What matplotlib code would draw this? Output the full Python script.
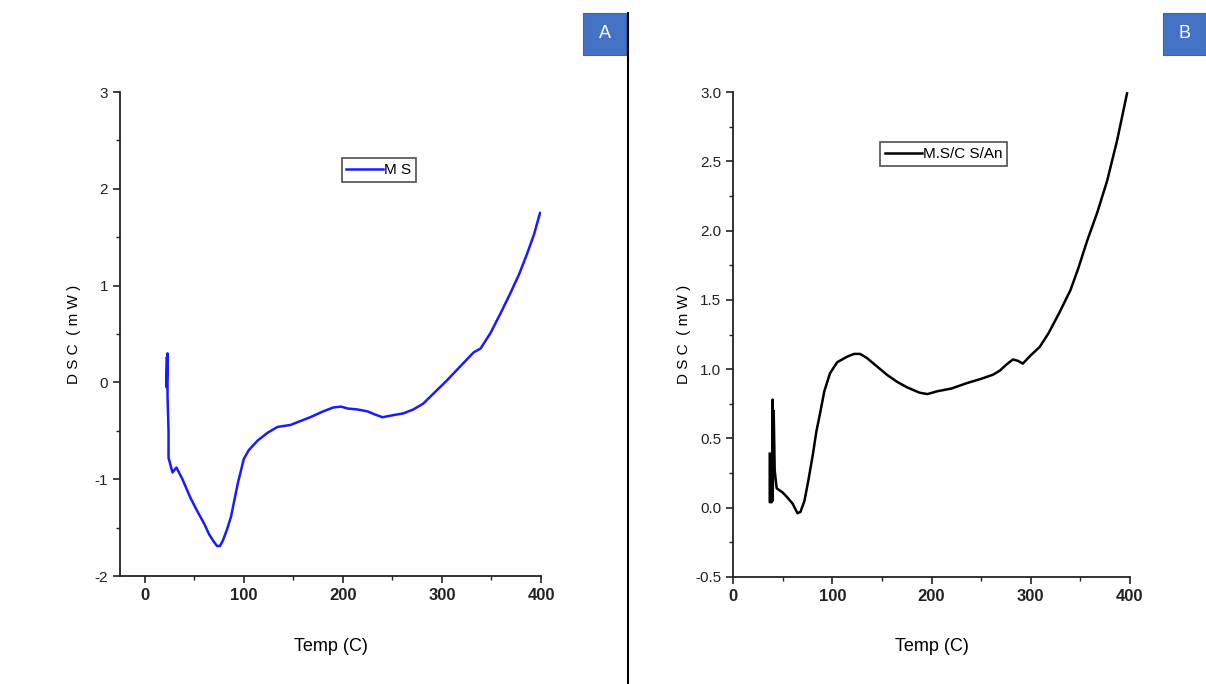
import matplotlib

matplotlib.use("Agg")

import matplotlib.pyplot as plt
from matplotlib.patches import Rectangle
from matplotlib.lines import Line2D
from matplotlib.ticker import MultipleLocator

plt.rcParams["font.family"] = ["Liberation Sans", "DejaVu Sans"]
plt.rcParams["axes.unicode_minus"] = False

# Panel A: M S
temp_a = [22, 22, 23, 23, 24, 24, 28, 32, 38, 46, 53, 60, 65, 70, 73, 76, 79, 83, 87, 94,
          100, 105, 114, 124, 134, 147, 157, 167, 180, 190, 198, 205, 215, 225, 232, 240,
          250, 261, 271, 281, 293, 305, 318, 332, 339, 349, 359, 369, 378, 386, 393, 399]
dsc_a = [0.25, -0.05, 0.30, -0.15, -0.50, -0.78, -0.93, -0.88, -1.00, -1.19, -1.33, -1.46,
         -1.57, -1.65, -1.69, -1.69, -1.63, -1.52, -1.39, -1.04, -0.79, -0.70, -0.60, -0.52,
         -0.46, -0.44, -0.40, -0.36, -0.30, -0.26, -0.25, -0.27, -0.28, -0.30, -0.33, -0.36,
         -0.34, -0.32, -0.28, -0.22, -0.10, 0.02, 0.16, 0.31, 0.35, 0.51, 0.71, 0.92, 1.12,
         1.33, 1.53, 1.75]

# Panel B: M.S/CS/An
temp_b = [37, 37, 39, 40, 40, 41, 42, 42, 44, 50, 54, 60, 65, 68, 72, 76, 80.6, 84, 87.7,
          92, 97.7, 105, 115, 122, 128, 135, 145, 155, 165, 175, 188, 196, 205.5, 220, 236,
          250, 262, 269, 275, 282, 287, 292, 300, 309, 318, 329, 340, 348, 357, 367, 377,
          387, 397]
dsc_b = [0.39, 0.04, 0.04, 0.78, 0.05, 0.70, 0.27, 0.27, 0.14, 0.11, 0.08, 0.03, -0.04,
         -0.03, 0.05, 0.20, 0.39, 0.55, 0.68, 0.84, 0.97, 1.05, 1.09, 1.11, 1.11, 1.08, 1.02,
         0.96, 0.91, 0.87, 0.83, 0.82, 0.84, 0.86, 0.90, 0.93, 0.96, 0.99, 1.03, 1.07, 1.06,
         1.04, 1.10, 1.16, 1.26, 1.41, 1.57, 1.73, 1.93, 2.13, 2.36, 2.65, 2.99]

W, H = 1206, 684


def px_axes(fig, left, top, right, bottom):
    return fig.add_axes([left / W, 1 - bottom / H, (right - left) / W, (bottom - top) / H])


def style_axis(ax, xlim, ylim, xmaj, xmin, ymaj, ymin, yfmt, ylab_x, xlab_y):
    ax.set_xlim(*xlim)
    ax.set_ylim(*ylim)
    ax.xaxis.set_major_locator(MultipleLocator(xmaj))
    ax.xaxis.set_minor_locator(MultipleLocator(xmin))
    ax.yaxis.set_major_locator(MultipleLocator(ymaj))
    ax.yaxis.set_minor_locator(MultipleLocator(ymin))
    ax.yaxis.set_major_formatter(yfmt)
    for side in ("top", "right"):
        ax.spines[side].set_visible(False)
    for side in ("left", "bottom"):
        ax.spines[side].set_linewidth(1.3)
        ax.spines[side].set_color("#222222")
    ax.tick_params(which="major", length=5, width=1.2, colors="#222222")
    ax.tick_params(which="minor", length=3, width=1.0, colors="#222222")
    ax.tick_params(axis="x", labelsize=12)
    ax.tick_params(axis="y", labelsize=11)
    for label in ax.get_xticklabels():
        label.set_fontweight("bold")
    ax.set_xlabel("Temp (C)", fontsize=13)
    ax.set_ylabel("D S C  ( m W )", fontsize=11)
    ax.yaxis.set_label_coords(ylab_x, 0.5)
    ax.xaxis.set_label_coords(0.5, xlab_y)


fig = plt.figure(figsize=(W / 100, H / 100), dpi=100)

ax_a = px_axes(fig, 120, 92, 541, 576)
ax_a.plot(temp_a, dsc_a, color="#1a1aff", linewidth=1.8, label="M S")
style_axis(ax_a, (-25, 400), (-2, 3), 100, 50, 1, 0.5, "{x:.0f}", -0.093, -0.128)
leg_a = ax_a.legend(loc="center", bbox_to_anchor=(0.615, 0.839), fancybox=False,
                    edgecolor="#222222", fontsize=11, handlelength=2.4,
                    handletextpad=0.1, borderpad=0.3, borderaxespad=0)
leg_a.get_frame().set_linewidth(1.2)

ax_b = px_axes(fig, 733, 92, 1130, 577)
ax_b.plot(temp_b, dsc_b, color="black", linewidth=1.8, label="M.S/C S/An")
style_axis(ax_b, (0, 400), (-0.5, 3.0), 100, 50, 0.5, 0.25, "{x:.1f}", -0.106, -0.126)
leg_b = ax_b.legend(loc="center", bbox_to_anchor=(0.531, 0.872), fancybox=False,
                    edgecolor="#222222", fontsize=11, handlelength=2.4,
                    handletextpad=0.1, borderpad=0.3, borderaxespad=0)
leg_b.get_frame().set_linewidth(1.2)

# divider between panels
fig.add_artist(Line2D([628 / W, 628 / W], [0, 1 - 13 / H], color="black", linewidth=1.5))

# panel letter boxes
for x0, letter in ((583, "A"), (1163, "B")):
    fig.add_artist(Rectangle((x0 / W, 1 - 55 / H), 43 / W, 42 / H,
                             transform=fig.transFigure, facecolor="#4472C4",
                             edgecolor="#3a64ad", linewidth=0.8))
    fig.text((x0 + 21.5) / W, 1 - 34 / H, letter, color="white", fontsize=13,
             ha="center", va="center")

fig.savefig("out.png", dpi=100)
